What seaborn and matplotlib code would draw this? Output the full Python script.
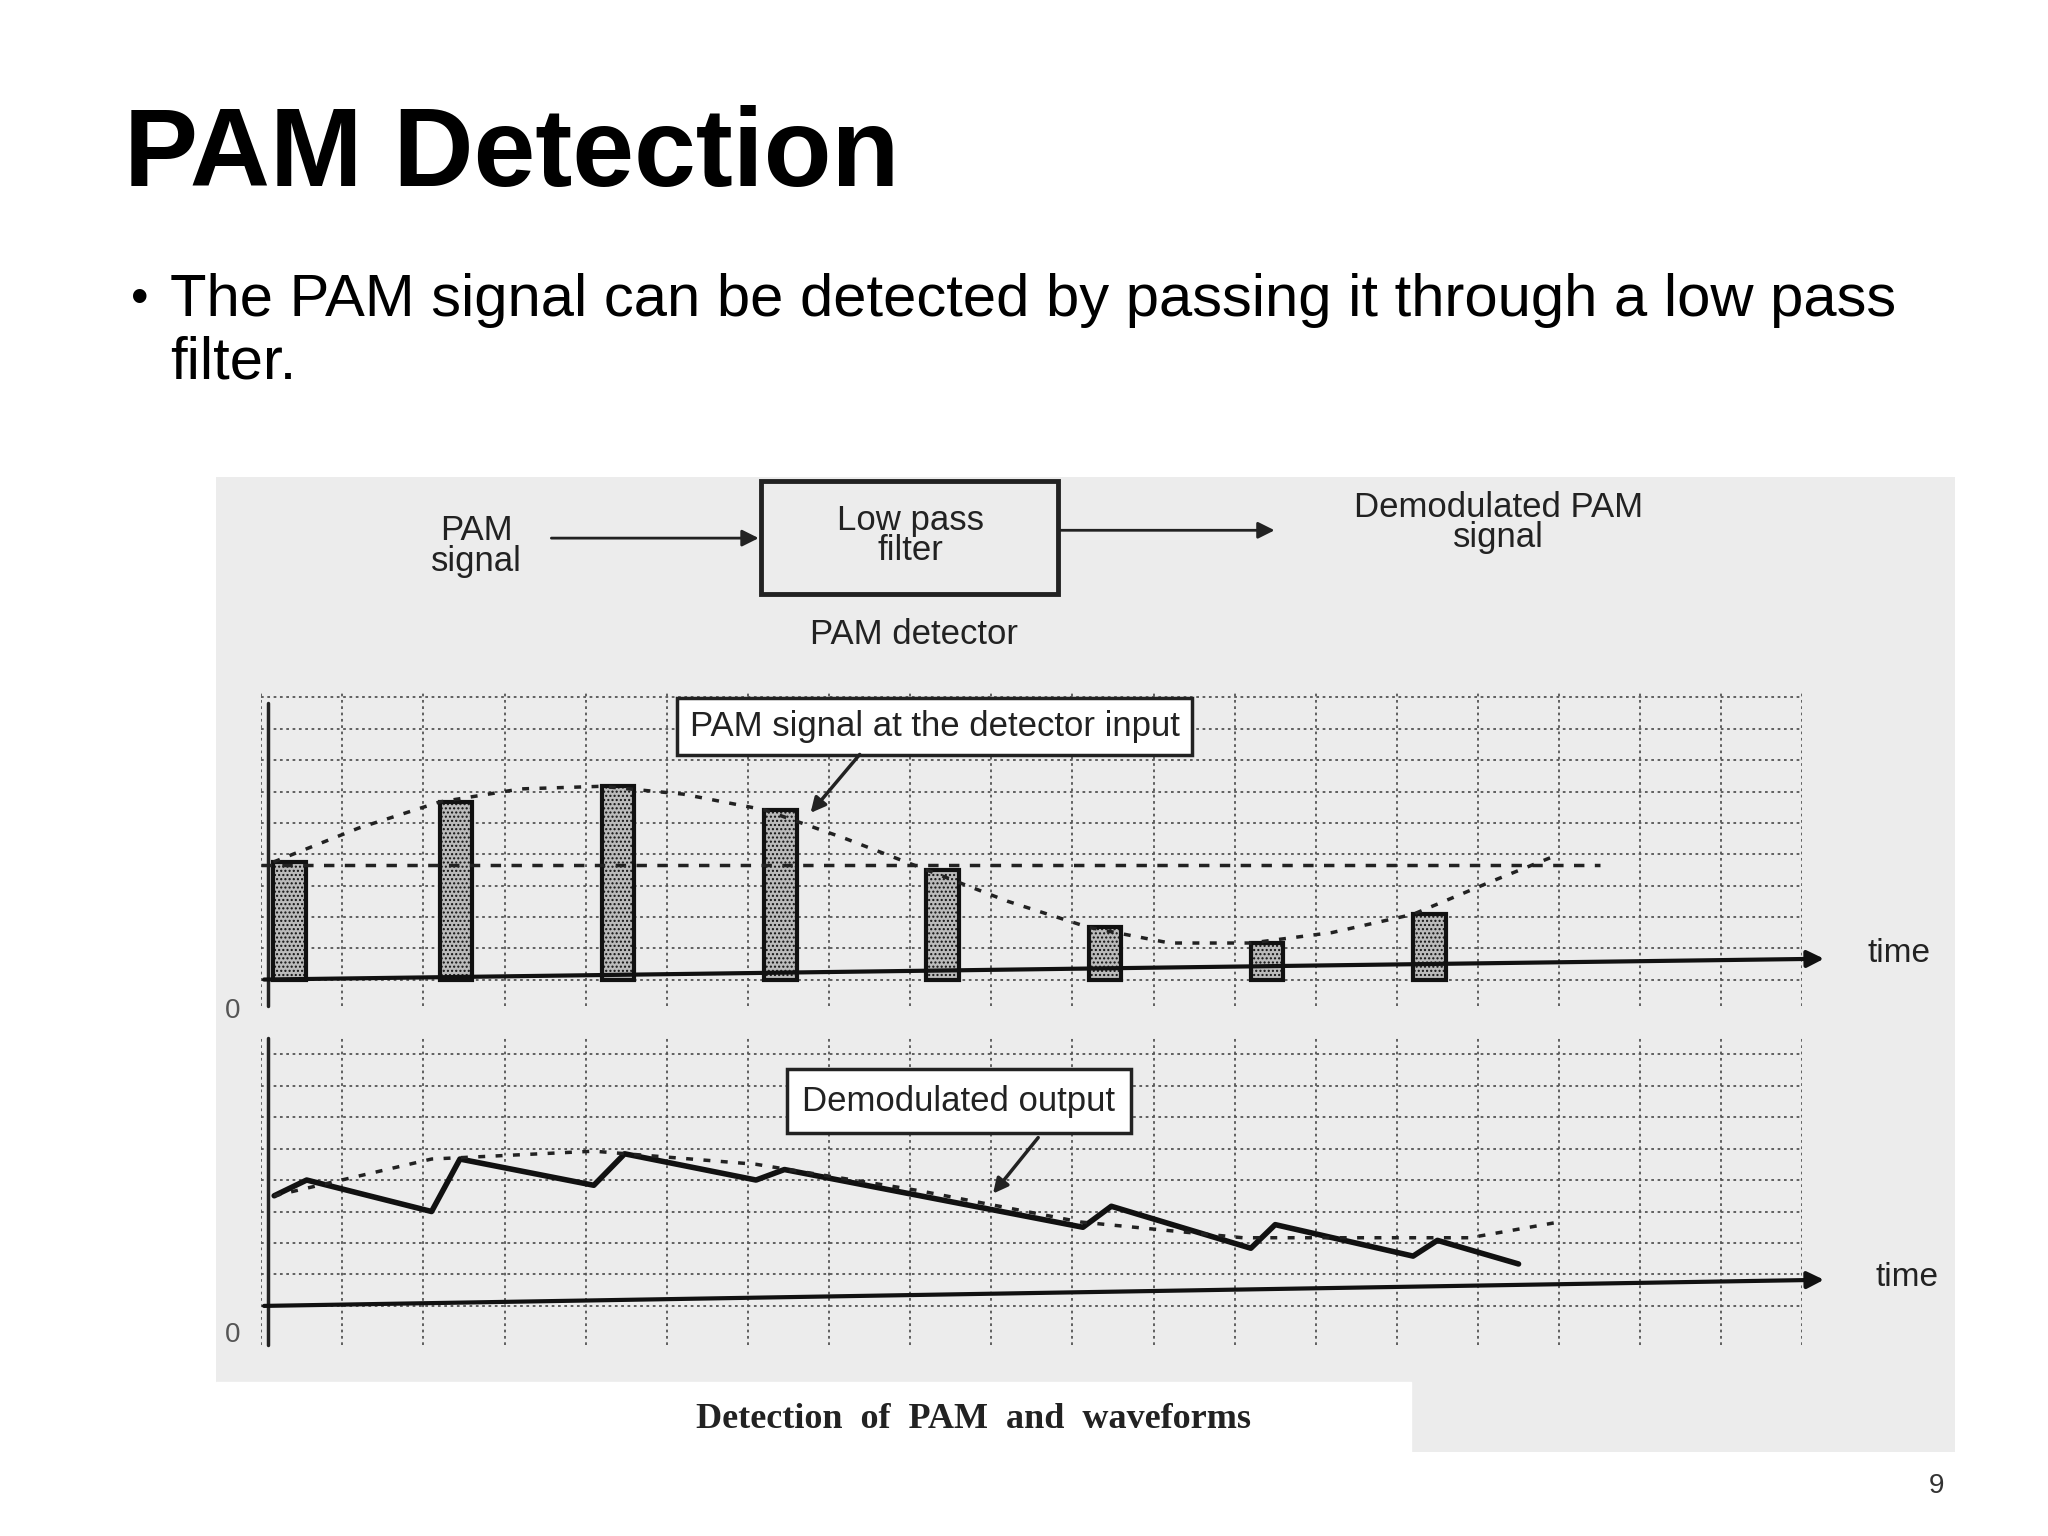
import numpy as np
import matplotlib
matplotlib.use("Agg")
import matplotlib.pyplot as plt
import seaborn as sns
from matplotlib.patches import Rectangle

sns.set_theme(style="white")
plt.rcParams['font.family'] = ['Liberation Sans', 'DejaVu Sans']
plt.rcParams['text.color'] = 'black'

# ---- data ----
pulse_t = [0.15, 2.2, 4.2, 6.2, 8.2, 10.2, 12.2, 14.2]
pulse_h = [2.25, 3.4, 3.7, 3.25, 2.1, 1.0, 0.7, 1.25]
env_t = [0.15, 1.2, 2.2, 3.2, 4.2, 5.2, 6.2, 7.2, 8.2, 9.2, 10.2, 11.2, 12.2, 13.2, 14.2, 15.2, 16.0]
env_h = [2.25, 2.9, 3.4, 3.65, 3.7, 3.55, 3.25, 2.7, 2.1, 1.5, 1.0, 0.7, 0.7, 0.9, 1.25, 1.9, 2.4]
mean_level = 2.2
out_t = [0.16, 0.56, 2.1, 2.45, 4.1, 4.48, 6.1, 6.45, 10.13, 10.48, 12.2, 12.5, 14.2, 14.5, 15.5]
out_h = [2.1, 2.4, 1.8, 2.8, 2.3, 2.9, 2.4, 2.6, 1.5, 1.9, 1.1, 1.55, 0.95, 1.25, 0.8]
oenv_t = [0.16, 2.1, 4.1, 6.1, 8.1, 10.1, 12.1, 14.9, 16.0]
oenv_h = [2.1, 2.8, 2.95, 2.7, 2.2, 1.6, 1.3, 1.3, 1.6]

W, H = 1568, 1176
fig = plt.figure(figsize=(20.48, 15.36), dpi=100)
fig.patch.set_facecolor("white")
def fx(x): return x / W
def fy(y): return 1 - y / H

fig.text(fx(95), fy(120), "PAM Detection", fontsize=80, fontweight="bold", va="center", ha="left", color="black")
fig.text(fx(100), fy(230), "•", fontsize=36, va="center", color="black")
fig.text(fx(130), fy(230), "The PAM signal can be detected by passing it through a low pass", fontsize=43, va="center", color="black")
fig.text(fx(130), fy(278), "filter.", fontsize=43, va="center", color="black")

# scanned region background
bg = fig.add_axes([fx(165), fy(1112), fx(1497 - 165), (1112 - 365) / H])
bg.set_facecolor("#ececec"); bg.set_xticks([]); bg.set_yticks([])
for s in bg.spines.values(): s.set_visible(False)

ov = fig.add_axes([0, 0, 1, 1], facecolor="none")
ov.set_xlim(0, W); ov.set_ylim(H, 0); ov.axis("off")
ov.add_patch(Rectangle((583, 368), 227, 87, fill=False, lw=3.5, color="#222"))
ov.text(697, 410, "Low pass\nfilter", ha="center", va="center", fontsize=25, color="#222", linespacing=0.9)
ov.text(365, 418, "PAM\nsignal", ha="center", va="center", fontsize=25, color="#222", linespacing=0.9)
ov.text(1147, 400, "Demodulated PAM\nsignal", ha="center", va="center", fontsize=25, color="#222", linespacing=0.9)
ov.text(700, 486, "PAM detector", ha="center", va="center", fontsize=25, color="#222")
ov.annotate("", xy=(583, 412), xytext=(420, 412), arrowprops=dict(arrowstyle="-|>", lw=2, color="#222", mutation_scale=25))
ov.annotate("", xy=(978, 406), xytext=(810, 406), arrowprops=dict(arrowstyle="-|>", lw=2, color="#222", mutation_scale=25))
ov.add_patch(Rectangle((165, 1058), 915, 55, color="white"))
ov.text(745, 1087, "Detection  of  PAM  and  waveforms", ha="center", va="center", fontsize=26, fontweight="bold",
        family=["Liberation Serif", "DejaVu Serif"], color="#222")
ov.text(1483, 1138, "9", ha="center", va="center", fontsize=20, color="#333")

def grid_axes(y_top, y_bot, ylow, yhigh):
    ax = fig.add_axes([fx(200), fy(y_bot), fx(1380 - 200), (y_bot - y_top) / H], facecolor="none")
    ax.set_xlim(0, 19); ax.set_ylim(ylow, yhigh)
    ax.set_xticks(np.arange(0, 20, 1)); ax.set_yticks(np.arange(np.ceil(ylow), yhigh, 0.6))
    ax.grid(True, ls=(0, (1.5, 2)), color="#555", lw=1.3)
    ax.tick_params(labelbottom=False, labelleft=False, length=0)
    for s in ax.spines.values(): s.set_visible(False)
    return ax

ax1 = grid_axes(530, 770, -0.5, 5.5)
for t, h in zip(pulse_t, pulse_h):
    ax1.add_patch(Rectangle((t, 0), 0.4, h, facecolor="#bbb", edgecolor="#111", lw=3, hatch="...."))
sns.lineplot(x=env_t, y=env_h, ax=ax1, color="#222", lw=2.5, linestyle=(0, (2, 3)))
ax1.plot([0, 16.5], [mean_level, mean_level], color="#222", lw=2.5, ls=(0, (3, 3)))
ax1.annotate("", xy=(19.3, 0.4), xytext=(0, 0), arrowprops=dict(arrowstyle="-|>", lw=3, color="#111", mutation_scale=25),
             annotation_clip=False)
ax1.plot([0.08, 0.08], [-0.5, 5.3], color="#222", lw=2.5, clip_on=False)
ax1.text(19.8, 0.5, "time", fontsize=24, va="center", color="#222")
ax1.text(-0.35, -0.6, "0", fontsize=20, va="center", ha="center", color="#555")
ax1.text(8.3, 4.85, "PAM signal at the detector input", fontsize=25, ha="center", va="center", color="#222",
         bbox=dict(boxstyle="square,pad=0.35", fc="white", ec="#222", lw=2.5))
ax1.annotate("", xy=(6.75, 3.15), xytext=(7.4, 4.35), arrowprops=dict(arrowstyle="-|>", lw=2.5, color="#222", mutation_scale=22))

ax2 = grid_axes(795, 1030, -0.75, 5.1)
sns.lineplot(x=out_t, y=out_h, ax=ax2, color="#111", lw=4)
sns.lineplot(x=oenv_t, y=oenv_h, ax=ax2, color="#222", lw=2.5, linestyle=(0, (2, 3)))
ax2.annotate("", xy=(19.3, 0.5), xytext=(0, 0), arrowprops=dict(arrowstyle="-|>", lw=3, color="#111", mutation_scale=25),
             annotation_clip=False)
ax2.plot([0.08, 0.08], [-0.75, 5.1], color="#222", lw=2.5, clip_on=False)
ax2.text(19.9, 0.55, "time", fontsize=24, va="center", color="#222")
ax2.text(-0.35, -0.55, "0", fontsize=20, va="center", ha="center", color="#555")
ax2.text(8.6, 3.9, "Demodulated output", fontsize=25, ha="center", va="center", color="#222",
         bbox=dict(boxstyle="square,pad=0.45", fc="white", ec="#222", lw=2.5))
ax2.annotate("", xy=(9.0, 2.1), xytext=(9.6, 3.25), arrowprops=dict(arrowstyle="-|>", lw=2.5, color="#222", mutation_scale=22))

fig.savefig("out.png", dpi=100, facecolor="white")
